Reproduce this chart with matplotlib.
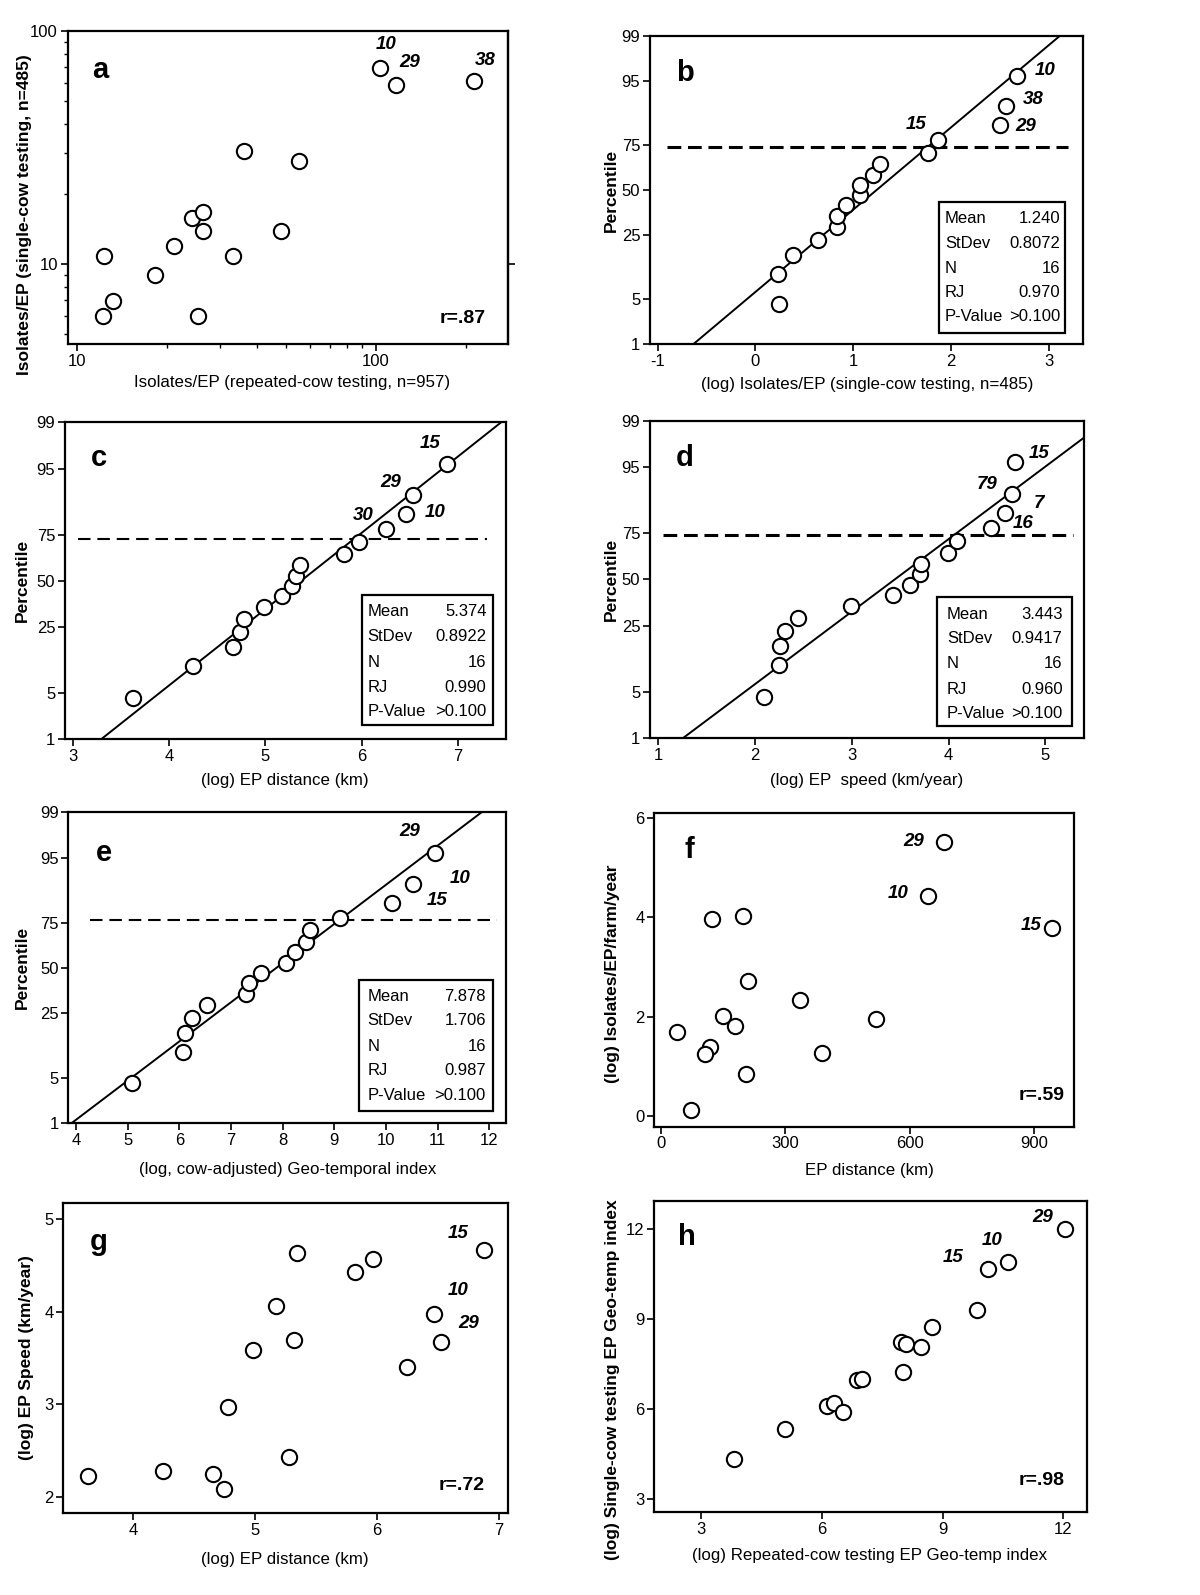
import numpy as np
import matplotlib
matplotlib.use('Agg')
import matplotlib.pyplot as plt
from matplotlib.patches import Rectangle
from matplotlib.ticker import NullLocator, NullFormatter, FixedFormatter, LogLocator
from statistics import NormalDist

plt.rcParams['font.family'] = ['Liberation Sans', 'DejaVu Sans']

# ---------------- data ----------------
# panel a (log-log)
a_x = [103, 116.7, 212.8, 36.3, 55.2, 24.2, 26.3, 26.3, 48.3, 21.1, 12.25, 33.3, 18.2, 13.2, 12.15, 25.4]
a_y = [69.2, 58.4, 61.3, 30.7, 27.8, 15.8, 16.8, 13.9, 13.9, 12.0, 10.9, 10.9, 8.97, 6.99, 6.0, 6.0]
a_r = "r=.87"

# probability plots: percentile of each ranked point (N=16)
pct = [4.3, 10.4, 16.5, 22.6, 28.7, 34.8, 40.9, 47.0, 53.0, 59.1, 65.2, 71.3, 77.4, 83.5, 89.6, 95.7]

b_x = [0.238, 0.235, 0.388, 0.639, 0.830, 0.830, 0.925, 1.075, 1.075, 1.207, 1.279, 1.765, 1.867, 2.507, 2.561, 2.680]
b_stats = [("Mean", "1.240"), ("StDev", "0.8072"), ("N", "16"), ("RJ", "0.970"), ("P-Value", ">0.100")]
b_mean, b_sd = 1.240, 0.8072
b_cut = 74.0

c_x = [3.624, 4.248, 4.660, 4.740, 4.782, 4.990, 5.177, 5.277, 5.319, 5.357, 5.820, 5.976, 6.255, 6.466, 6.532, 6.889]
c_stats = [("Mean", "5.374"), ("StDev", "0.8922"), ("N", "16"), ("RJ", "0.990"), ("P-Value", ">0.100")]
c_mean, c_sd = 5.374, 0.8922
c_cut = 73.2

d_x = [2.097, 2.248, 2.259, 2.310, 2.441, 2.993, 3.424, 3.603, 3.707, 3.717, 3.990, 4.086, 4.441, 4.586, 4.655, 4.683]
d_stats = [("Mean", "3.443"), ("StDev", "0.9417"), ("N", "16"), ("RJ", "0.960"), ("P-Value", ">0.100")]
d_mean, d_sd = 3.443, 0.9417
d_cut = 74.5

e_x = [5.09, 6.06, 6.11, 6.25, 6.53, 7.28, 7.35, 7.57, 8.06, 8.24, 8.45, 8.52, 9.10, 10.12, 10.53, 10.95]
e_stats = [("Mean", "7.878"), ("StDev", "1.706"), ("N", "16"), ("RJ", "0.987"), ("P-Value", ">0.100")]
e_mean, e_sd = 7.878, 1.706
e_cut = 76.2

# panel f
f_x = [683, 643, 942, 123, 197, 210, 335, 149, 178, 518, 39, 118, 106, 389, 205, 72]
f_y = [5.51, 4.43, 3.79, 3.96, 4.02, 2.72, 2.33, 2.01, 1.81, 1.96, 1.69, 1.40, 1.26, 1.27, 0.86, 0.13]
f_r = "r=.59"

# panel g
g_x = [3.625, 4.241, 4.656, 4.744, 5.274, 4.774, 4.984, 5.318, 5.170, 5.340, 5.821, 5.963, 6.248, 6.464, 6.527, 6.879]
g_y = [2.227, 2.281, 2.245, 2.079, 2.425, 2.972, 3.584, 3.692, 4.060, 4.629, 4.423, 4.564, 3.404, 3.973, 3.674, 4.665]
g_r = "r=.72"

# panel h
h_x = [3.82, 5.09, 6.12, 6.31, 6.52, 6.87, 7.01, 7.96, 8.08, 8.02, 8.46, 8.74, 9.85, 10.14, 10.62, 12.03]
h_y = [4.34, 5.32, 6.11, 6.19, 5.90, 6.97, 6.99, 8.22, 8.16, 7.24, 8.06, 8.73, 9.31, 10.66, 10.89, 12.01]
h_r = "r=.98"

# ---------------- helpers ----------------
W, H = 1200, 1595
fig = plt.figure(figsize=(W / 100, H / 100), dpi=100)

def add_ax(l, r, t, b):
    return fig.add_axes([l / W, 1 - b / H, (r - l) / W, (b - t) / H])

_nd = NormalDist()
_inv = np.vectorize(lambda v: _nd.inv_cdf(v), otypes=[float])
_cdf = np.vectorize(lambda v: _nd.cdf(v), otypes=[float])

def p2z(p):
    p = np.clip(np.asarray(p, dtype=float), 1e-6, 100 - 1e-6)
    return _inv(p / 100.0)

def z2p(z):
    return 100.0 * _cdf(np.asarray(z, dtype=float))

TICK_FS = 12
XLAB_FS = 12.2
YLAB_FS = 12.5
MS = 11
MEW = 1.5
YSHIFT = -0.007

def style(ax):
    for s in ax.spines.values():
        s.set_linewidth(1.6)
    ax.tick_params(which='major', direction='out', length=5, width=1.2, labelsize=TICK_FS, pad=2)
    ax.tick_params(which='minor', direction='out', length=3, width=1.0)

def scatter(ax, x, y):
    ax.plot(x, y, 'o', ms=MS, mfc='white', mec='black', mew=MEW, zorder=3, clip_on=False)

def letter(ax, s, x, y):
    ax.text(x, y, s, transform=ax.transAxes, fontsize=21, fontweight='bold', ha='center', va='center')

def rtext(ax, s, x, y):
    ax.text(x, y, s, transform=ax.transAxes, fontsize=14, fontweight='bold', ha='center', va='center')

def numlab(ax, s, x, y):
    ax.text(x, y, s, fontsize=13.5, fontweight='bold', style='italic', ha='center', va='center', zorder=4)

def labels(ax, xl, yl, xc, xt, yl_x, yl_c):
    # yl_x is the right edge of the rotated y label (axes fraction)
    ax.set_xlabel(xl, fontsize=XLAB_FS)
    ax.set_ylabel(yl, fontsize=YLAB_FS, fontweight='bold')
    ax.xaxis.set_label_coords(xc, xt)
    ax.yaxis.set_label_coords(yl_x + YSHIFT, yl_c)

def statbox(ax, stats, x0, x1, y0, y1, rows_y, tx, vx):
    ax.add_patch(Rectangle((x0, y0), x1 - x0, y1 - y0, transform=ax.transAxes,
                           fill=True, fc='white', ec='black', lw=1.6, zorder=5))
    for (k, v), yy in zip(stats, rows_y):
        ax.text(tx, yy, k, transform=ax.transAxes, fontsize=12, ha='left', va='center', zorder=6)
        ax.text(vx, yy, v, transform=ax.transAxes, fontsize=12, ha='right', va='center', zorder=6)

def probplot(ax, x, p, mean, sd, cut, cut_ext, dash_lw, dashes, xlim, xticks):
    ax.set_yscale('function', functions=(p2z, z2p))
    ax.set_ylim(1, 99)
    ax.set_yticks([1, 5, 25, 50, 75, 95, 99])
    ax.yaxis.set_major_formatter(FixedFormatter(['1', '5', '25', '50', '75', '95', '99']))
    ax.yaxis.set_minor_locator(NullLocator())
    ax.set_xlim(*xlim)
    ax.set_xticks(xticks)
    ax.xaxis.set_minor_locator(NullLocator())
    zz = np.linspace(-3.5, 3.5, 200)
    ax.plot(mean + sd * zz, z2p(zz), color='black', lw=1.4, zorder=2)
    ax.axhline(cut, xmin=cut_ext[0], xmax=cut_ext[1], color='black', lw=dash_lw, dashes=dashes, zorder=1)
    scatter(ax, x, p)
    style(ax)

# ---------------- panel a ----------------
ax = add_ax(67.7, 508, 31, 344)
ax.set_xscale('log'); ax.set_yscale('log')
ax.set_xlim(9.29, 277); ax.set_ylim(4.55, 100)
ax.set_xticks([10, 100]); ax.set_xticklabels(['10', '100'])
ax.set_yticks([10, 100]); ax.set_yticklabels(['10', '100'])
ax.xaxis.set_minor_formatter(NullFormatter()); ax.yaxis.set_minor_formatter(NullFormatter())
ax.xaxis.set_minor_locator(LogLocator(base=10, subs=np.arange(2, 10)))
ax.yaxis.set_minor_locator(LogLocator(base=10, subs=np.arange(2, 10)))
scatter(ax, a_x, a_y)
style(ax)
sec = ax.secondary_yaxis('right')
sec.set_yticks([10]); sec.set_yticklabels([''])
sec.yaxis.set_minor_locator(NullLocator())
sec.tick_params(direction='out', length=5, width=1.2)
sec.spines['right'].set_linewidth(1.6)
numlab(ax, '10', 108.6, 87.1); numlab(ax, '29', 130, 73.1); numlab(ax, '38', 231.7, 74.6)
letter(ax, 'a', 0.073, 0.876)
rtext(ax, a_r, 0.898, 0.083)
labels(ax, 'Isolates/EP (repeated-cow testing, n=957)', 'Isolates/EP (single-cow testing, n=485)',
       0.509, -0.099, -0.074, 0.412)

# ---------------- panel b ----------------
ax = add_ax(650, 1082.7, 35.7, 344.3)
probplot(ax, b_x, pct, b_mean, b_sd, b_cut, (0.039, 0.967), 2.2, (4.5, 2.2), (-1.08, 3.35), [-1, 0, 1, 2, 3])
ax.set_xticklabels(['-1', '0', '1', '2', '3'])
numlab(ax, '10', 2.966, 96.45); numlab(ax, '38', 2.847, 91.3); numlab(ax, '29', 2.762, 83.1); numlab(ax, '15', 1.639, 83.9)
letter(ax, 'b', 0.081, 0.878)
statbox(ax, b_stats, 0.668, 0.959, 0.036, 0.462, [0.408, 0.327, 0.246, 0.167, 0.090], 0.682, 0.948)
labels(ax, '(log) Isolates/EP (single-cow testing, n=485)', 'Percentile', 0.501, -0.105, -0.065, 0.5)

# ---------------- panel c ----------------
ax = add_ax(65, 506, 422.3, 739)
probplot(ax, c_x, pct, c_mean, c_sd, c_cut, (0.030, 0.956), 1.5, (6, 3.3), (2.92, 7.5), [3, 4, 5, 6, 7])
numlab(ax, '15', 6.716, 97.8); numlab(ax, '29', 6.30, 92.6); numlab(ax, '30', 6.016, 82.9); numlab(ax, '10', 6.768, 84.1)
letter(ax, 'c', 0.078, 0.886)
statbox(ax, c_stats, 0.674, 0.970, 0.044, 0.455, [0.404, 0.323, 0.242, 0.163, 0.087], 0.686, 0.956)
labels(ax, '(log) EP distance (km)', 'Percentile', 0.499, -0.106, -0.072, 0.502)

# ---------------- panel d ----------------
ax = add_ax(650, 1084, 420.7, 738.3)
probplot(ax, d_x, pct, d_mean, d_sd, d_cut, (0.031, 0.974), 2.2, (4.5, 2.2), (0.914, 5.40), [1, 2, 3, 4, 5])
numlab(ax, '15', 4.931, 96.8); numlab(ax, '79', 4.397, 91.7); numlab(ax, '7', 4.931, 86.7); numlab(ax, '16', 4.766, 79.3)
letter(ax, 'd', 0.079, 0.883)
statbox(ax, d_stats, 0.661, 0.973, 0.040, 0.446, [0.390, 0.313, 0.234, 0.155, 0.077], 0.684, 0.951)
labels(ax, '(log) EP  speed (km/year)', 'Percentile', 0.499, -0.108, -0.064, 0.5)

# ---------------- panel e ----------------
ax = add_ax(68.3, 506, 812.3, 1123.3)
probplot(ax, e_x, pct, e_mean, e_sd, e_cut, (0.050, 0.979), 1.5, (6, 3.3), (3.85, 12.32), [4, 5, 6, 7, 8, 9, 10, 11, 12])
numlab(ax, '29', 10.45, 97.9); numlab(ax, '10', 11.43, 90.8); numlab(ax, '15', 10.98, 84.3)
letter(ax, 'e', 0.082, 0.868)
statbox(ax, e_stats, 0.665, 0.970, 0.038, 0.460, [0.408, 0.329, 0.248, 0.170, 0.089], 0.684, 0.954)
labels(ax, '(log, cow-adjusted) Geo-temporal index', 'Percentile', 0.501, -0.123, -0.080, 0.5)

# ---------------- panel f ----------------
ax = add_ax(654.3, 1074, 812.7, 1126.7)
ax.set_xlim(-16, 995.6); ax.set_ylim(-0.207, 6.1)
ax.set_xticks([0, 300, 600, 900]); ax.set_yticks([0, 2, 4, 6])
scatter(ax, f_x, f_y)
style(ax)
numlab(ax, '29', 609, 5.525); numlab(ax, '10', 571, 4.475); numlab(ax, '15', 892, 3.84)
letter(ax, 'f', 0.083, 0.881)
rtext(ax, f_r, 0.923, 0.098)
labels(ax, 'EP distance (km)', '(log) Isolates/EP/farm/year', 0.512, -0.116, -0.074, 0.486)

# ---------------- panel g ----------------
ax = add_ax(63.3, 508.3, 1202.7, 1513.3)
ax.set_xlim(3.426, 7.077); ax.set_ylim(1.82, 5.176)
ax.set_xticks([4, 5, 6, 7]); ax.set_yticks([2, 3, 4, 5])
scatter(ax, g_x, g_y)
style(ax)
numlab(ax, '15', 6.661, 4.845); numlab(ax, '10', 6.661, 4.225); numlab(ax, '29', 6.748, 3.873)
letter(ax, 'g', 0.079, 0.874)
rtext(ax, g_r, 0.895, 0.091)
labels(ax, '(log) EP distance (km)', '(log) EP Speed (km/year)', 0.498, -0.124, -0.058, 0.5)

# ---------------- panel h ----------------
ax = add_ax(654.3, 1086.7, 1201, 1512.3)
ax.set_xlim(1.84, 12.58); ax.set_ylim(2.556, 12.93)
ax.set_xticks([3, 6, 9, 12]); ax.set_yticks([3, 6, 9, 12])
scatter(ax, h_x, h_y)
style(ax)
numlab(ax, '29', 11.48, 12.38); numlab(ax, '10', 10.22, 11.6); numlab(ax, '15', 9.25, 11.06)
letter(ax, 'h', 0.076, 0.885)
rtext(ax, h_r, 0.896, 0.101)
labels(ax, '(log) Repeated-cow testing EP Geo-temp index', '(log) Single-cow testing EP Geo-temp index',
       0.498, -0.115, -0.072, 0.425)

fig.savefig('out.png', dpi=100, facecolor='white')
